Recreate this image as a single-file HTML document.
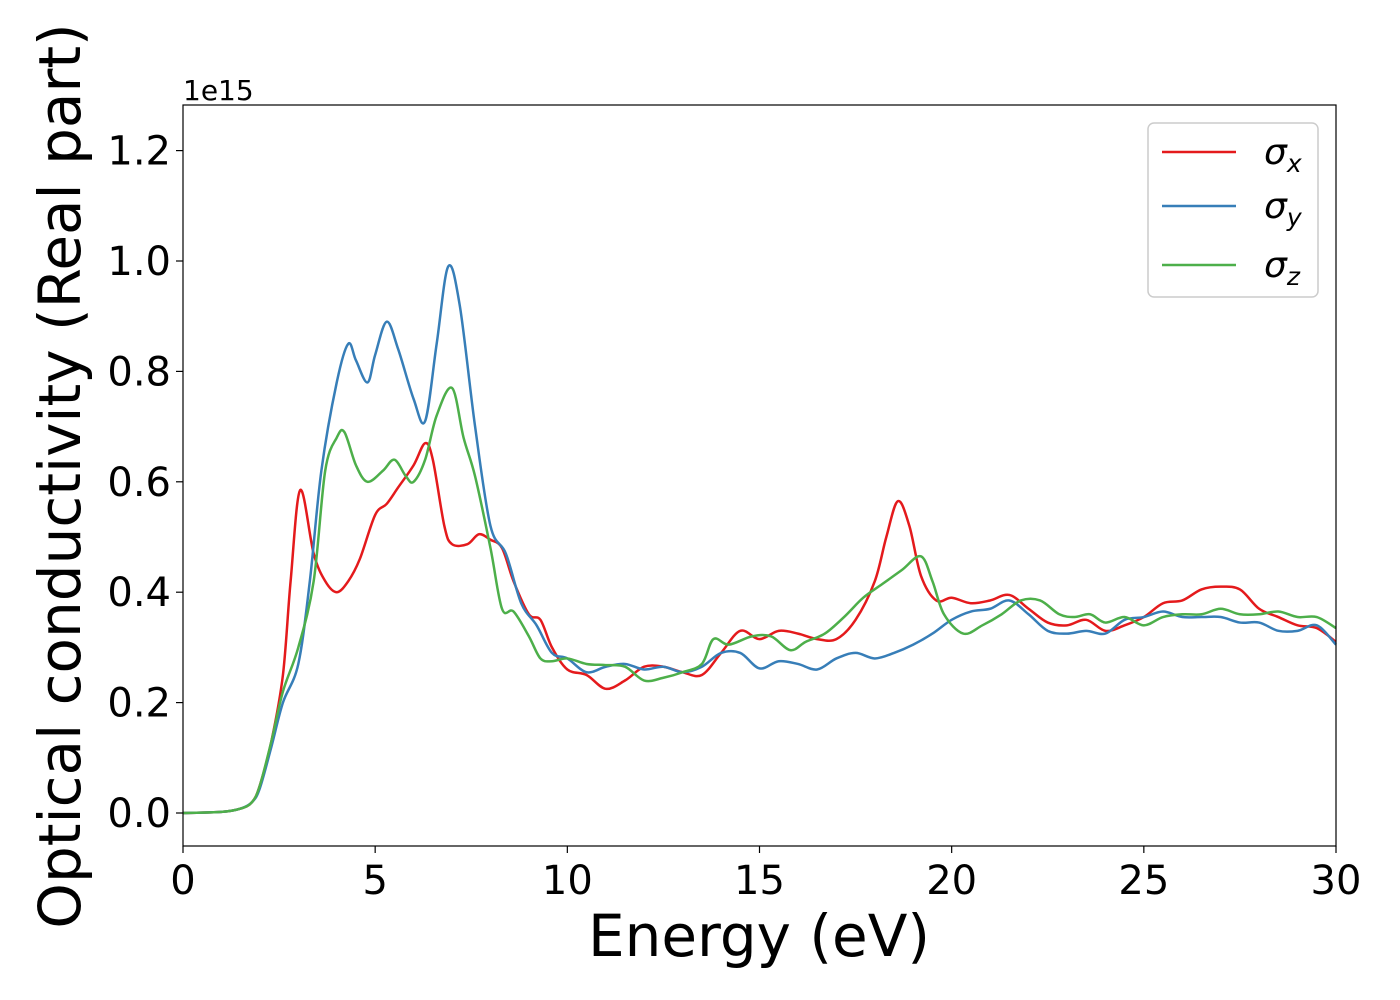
<!DOCTYPE html>
<html><head><meta charset="utf-8"><style>
html,body{margin:0;padding:0;background:#fff;}
svg{display:block;font-family:"DejaVu Sans","Liberation Sans",sans-serif;}
</style></head><body>
<svg id="chart" width="1400" height="1000">
<rect x="0" y="0" width="1400" height="1000" fill="#fff"/>
<g id="plot"></g>
<g id="axes"></g>
<text x="183" y="100" font-size="28">1e15</text>
<text x="759" y="956" font-size="58" text-anchor="middle">Energy (eV)</text>
<text transform="translate(80,476) rotate(-90)" font-size="58" text-anchor="middle">Optical conductivity (Real part)</text>
<g>
<rect x="1148" y="123" width="170" height="174" rx="6" fill="#fff" stroke="#ccc" stroke-width="1.5"/>
<g><line x1="1162" y1="152" x2="1236" y2="152" stroke="#e41a1c" stroke-width="2.5"/><text x="1264" y="164" font-size="36" font-style="italic">σ<tspan font-size="25" dy="8">x</tspan></text></g>
<g><line x1="1162" y1="206" x2="1236" y2="206" stroke="#377eb8" stroke-width="2.5"/><text x="1264" y="218" font-size="36" font-style="italic">σ<tspan font-size="25" dy="8">y</tspan></text></g>
<g><line x1="1162" y1="265" x2="1236" y2="265" stroke="#4daf4a" stroke-width="2.5"/><text x="1264" y="277" font-size="36" font-style="italic">σ<tspan font-size="25" dy="8">z</tspan></text></g>
</g>
</svg>
<script>
const xTicks=[0,5,10,15,20,25,30];
const yTicks=[0,0.2,0.4,0.6,0.8,1.0,1.2];
const ex=[0,1,1.5,1.8,2,2.3,2.6,2.8,3.05,3.4,3.7,4,4.3,4.6,5,5.3,5.6,6,6.3,6.5,6.8,7,7.4,7.7,8,8.3,8.6,9,9.3,9.6,10,10.5,11,11.5,12,12.5,13,13.5,14,14.5,15,15.5,16,16.5,17,17.5,18,18.3,18.6,18.9,19.2,19.6,20,20.5,21,21.5,22,22.5,23,23.5,24,24.5,25,25.5,26,26.5,27,27.5,28,28.5,29,29.5,30];
const sx=[0,0.002,0.008,0.02,0.05,0.13,0.25,0.42,0.585,0.47,0.42,0.40,0.42,0.46,0.54,0.56,0.59,0.63,0.67,0.64,0.52,0.487,0.487,0.505,0.495,0.48,0.42,0.36,0.35,0.30,0.26,0.25,0.225,0.24,0.265,0.265,0.255,0.25,0.29,0.33,0.315,0.33,0.325,0.315,0.315,0.35,0.42,0.5,0.565,0.52,0.43,0.385,0.39,0.38,0.385,0.395,0.37,0.345,0.34,0.35,0.33,0.34,0.355,0.38,0.385,0.405,0.41,0.405,0.37,0.355,0.34,0.335,0.31];
const ey=[0,1,1.5,1.8,2,2.3,2.6,3,3.3,3.6,4,4.3,4.5,4.8,5,5.3,5.6,6,6.3,6.6,6.9,7.2,7.6,8,8.4,8.8,9.2,9.6,10,10.5,11,11.5,12,12.5,13,13.5,14,14.5,15,15.5,16,16.5,17,17.5,18,18.5,19,19.5,20,20.5,21,21.5,22,22.5,23,23.5,24,24.5,25,25.5,26,26.5,27,27.5,28,28.5,29,29.5,30];
const sy=[0,0.002,0.008,0.02,0.045,0.12,0.2,0.27,0.42,0.62,0.78,0.85,0.82,0.78,0.83,0.89,0.84,0.75,0.71,0.85,0.99,0.92,0.7,0.52,0.47,0.38,0.34,0.29,0.28,0.255,0.265,0.27,0.26,0.265,0.255,0.265,0.29,0.29,0.262,0.275,0.27,0.26,0.28,0.29,0.28,0.29,0.305,0.325,0.35,0.365,0.37,0.385,0.36,0.33,0.325,0.33,0.325,0.35,0.355,0.365,0.355,0.355,0.355,0.345,0.345,0.33,0.33,0.34,0.305];
const ez=[0,1,1.5,1.8,2,2.3,2.6,3,3.4,3.7,4,4.2,4.5,4.8,5.2,5.5,5.8,6,6.3,6.6,7,7.3,7.6,8,8.3,8.6,9,9.3,9.6,10,10.5,11,11.5,12,12.5,13,13.5,13.8,14.2,14.8,15.3,15.8,16.2,16.7,17.2,17.7,18.2,18.7,19.2,19.5,19.8,20.3,20.8,21.3,21.8,22.3,22.8,23.2,23.6,24,24.5,25,25.5,26,26.5,27,27.5,28,28.5,29,29.5,30];
const sz=[0,0.002,0.008,0.02,0.05,0.13,0.22,0.3,0.42,0.62,0.68,0.69,0.63,0.6,0.62,0.64,0.61,0.6,0.64,0.72,0.77,0.68,0.61,0.48,0.37,0.365,0.32,0.28,0.275,0.28,0.27,0.268,0.265,0.24,0.245,0.255,0.27,0.315,0.305,0.32,0.32,0.295,0.31,0.325,0.355,0.39,0.415,0.44,0.465,0.42,0.36,0.325,0.34,0.36,0.385,0.385,0.36,0.355,0.36,0.345,0.355,0.34,0.355,0.36,0.36,0.37,0.36,0.36,0.365,0.355,0.355,0.335];

const X0=183,X1=1336,YT=105,YB=846,Y0=813,YPX=552;
const xs=v=>X0+(v/30)*(X1-X0);
const ys=v=>Y0-v*YPX;
const NS="http://www.w3.org/2000/svg";
const plot=document.getElementById('plot'),axes=document.getElementById('axes');
function pathFor(xa,ya){
  const p=xa.map((x,i)=>[xs(x),ys(ya[i])]);
  let d=`M${p[0][0]},${p[0][1]}`;
  for(let i=0;i<p.length-1;i++){
    const a=p[Math.max(0,i-1)],b=p[i],c=p[i+1],e=p[Math.min(p.length-1,i+2)];
    const c1=[b[0]+(c[0]-a[0])/6,b[1]+(c[1]-a[1])/6],c2=[c[0]-(e[0]-b[0])/6,c[1]-(e[1]-b[1])/6];
    d+=` C${c1[0]},${c1[1]} ${c2[0]},${c2[1]} ${c[0]},${c[1]}`;
  }
  return d;
}
[[ex,sx,'#e41a1c','series-sigma-x'],[ey,sy,'#377eb8','series-sigma-y'],[ez,sz,'#4daf4a','series-sigma-z']].forEach(s=>{
  const el=document.createElementNS(NS,'path');
  el.setAttribute('d',pathFor(s[0],s[1]));
  el.setAttribute('fill','none');el.setAttribute('stroke',s[2]);el.setAttribute('stroke-width','2.5');
  
  
  plot.appendChild(el);
});
const frame=document.createElementNS(NS,'rect');
frame.setAttribute('x',X0);frame.setAttribute('y',YT);frame.setAttribute('width',X1-X0);frame.setAttribute('height',YB-YT);
frame.setAttribute('fill','none');frame.setAttribute('stroke','#000');frame.setAttribute('stroke-width','1.2');


axes.appendChild(frame);
xTicks.forEach(t=>{
  const l=document.createElementNS(NS,'line');
  l.setAttribute('x1',xs(t));l.setAttribute('x2',xs(t));l.setAttribute('y1',YB);l.setAttribute('y2',YB+7);l.setAttribute('stroke','#000');l.setAttribute('stroke-width','1.2');
  
  
  axes.appendChild(l);
  const tx=document.createElementNS(NS,'text');
  tx.setAttribute('x',xs(t));tx.setAttribute('y',YB+48);tx.setAttribute('font-size','40');tx.setAttribute('text-anchor','middle');
  tx.textContent=t;
  
  
  axes.appendChild(tx);
});
yTicks.forEach(t=>{
  const l=document.createElementNS(NS,'line');
  l.setAttribute('x1',X0-7);l.setAttribute('x2',X0);l.setAttribute('y1',ys(t));l.setAttribute('y2',ys(t));l.setAttribute('stroke','#000');l.setAttribute('stroke-width','1.2');
  
  
  axes.appendChild(l);
  const tx=document.createElementNS(NS,'text');
  tx.setAttribute('x',X0-12);tx.setAttribute('y',ys(t)+14);tx.setAttribute('font-size','40');tx.setAttribute('text-anchor','end');
  tx.textContent=t.toFixed(1);
  
  
  axes.appendChild(tx);
});
</script>
</body></html>
